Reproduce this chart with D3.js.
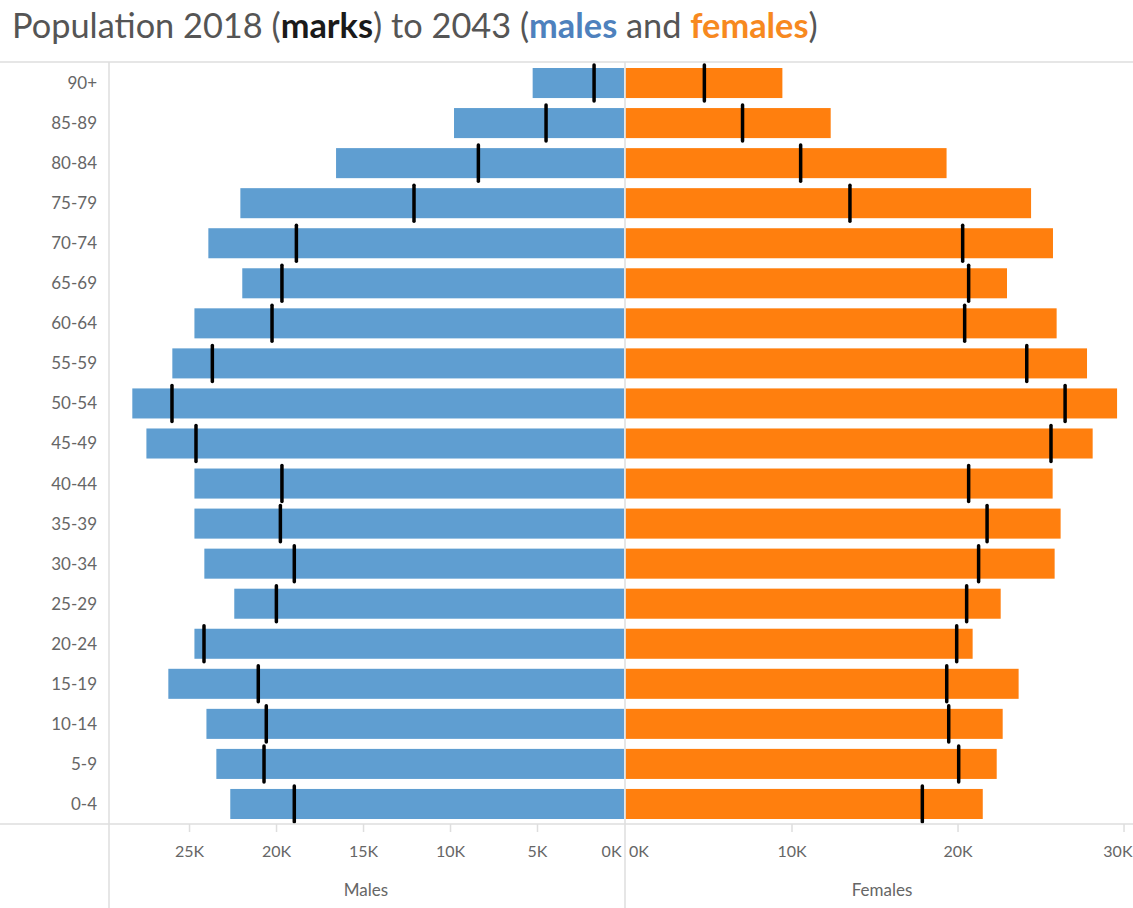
<!DOCTYPE html>
<html>
<head>
<meta charset="utf-8">
<script src="https://cdn.jsdelivr.net/npm/d3@7"></script>
<style>
  html, body { margin: 0; padding: 0; background: #fff; }
  svg { display: block; font-family: Lato, "Open Sans", sans-serif; }
</style>
</head>
<body>
<svg id="chart" width="1133" height="908"></svg>
<script>
// ---- data ----
const ageGroups = ["90+","85-89","80-84","75-79","70-74","65-69","60-64","55-59","50-54","45-49",
                   "40-44","35-39","30-34","25-29","20-24","15-19","10-14","5-9","0-4"];
// 2043 projections (bars)
const males2043   = [5250, 9770, 16550, 22050, 23890, 21940, 24690, 25960, 28260, 27450,
                     24690, 24690, 24120, 22400, 24690, 26190, 24000, 23430, 22630];
const females2043 = [9450, 12360, 19340, 24430, 25750, 22980, 25970, 27800, 29610, 28140,
                     25730, 26210, 25850, 22600, 20910, 23680, 22720, 22360, 21520];
// 2018 population (marks)
const males2018   = [1720, 4480, 8370, 12070, 18830, 19660, 20230, 23660, 25980, 24600,
                     19660, 19750, 18950, 19980, 24140, 21020, 20560, 20690, 18950];
const females2018 = [4750, 7050, 10550, 13520, 20310, 20670, 20430, 24170, 26480, 25630,
                     20670, 21780, 21270, 20550, 19950, 19350, 19470, 20070, 17880];
const maleTicks   = [0, 5000, 10000, 15000, 20000, 25000];
const femaleTicks = [0, 10000, 20000, 30000];

// ---- layout ----
const svg = d3.select("#chart");
const W = 1133, H = 908;
const yTop = 63, yBottom = 824;
const leftFrame = 109, mid = 625;
const maleColor = "#5f9ed1", femaleColor = "#ff7f0e";
const lineColor = "#dedede", textColor = "#666";

const y = d3.scaleBand().domain(ageGroups).range([yTop, yBottom]).paddingInner(0.25).paddingOuter(0.125);
const xM = d3.scaleLinear().domain([0, 29600]).range([mid - 1, leftFrame]);
const xF = d3.scaleLinear().domain([0, 30570]).range([mid + 0.5, W]);

// frame lines
svg.append("line").attr("x1", 0).attr("x2", W).attr("y1", yTop - 1).attr("y2", yTop - 1)
  .attr("stroke", lineColor).attr("stroke-width", 1.5);
svg.append("line").attr("x1", leftFrame).attr("x2", leftFrame).attr("y1", yTop - 1).attr("y2", H)
  .attr("stroke", lineColor).attr("stroke-width", 1.5);

// bars
svg.append("g").selectAll("rect").data(ageGroups).join("rect")
  .attr("x", (d, i) => xM(males2043[i]))
  .attr("y", d => y(d))
  .attr("width", (d, i) => xM(0) - xM(males2043[i]))
  .attr("height", y.bandwidth())
  .attr("fill", maleColor);
svg.append("g").selectAll("rect").data(ageGroups).join("rect")
  .attr("x", xF(0))
  .attr("y", d => y(d))
  .attr("width", (d, i) => xF(females2043[i]) - xF(0))
  .attr("height", y.bandwidth())
  .attr("fill", femaleColor);

// center line
svg.append("line").attr("x1", mid).attr("x2", mid).attr("y1", yTop - 1).attr("y2", H)
  .attr("stroke", lineColor).attr("stroke-width", 1.5);

// marks (2018)
const markExt = 3;
svg.append("g").selectAll("line").data(ageGroups).join("line")
  .attr("x1", (d, i) => xM(males2018[i])).attr("x2", (d, i) => xM(males2018[i]))
  .attr("y1", d => y(d) - markExt).attr("y2", d => y(d) + y.bandwidth() + markExt)
  .attr("stroke", "#000").attr("stroke-width", 3.5).attr("stroke-linecap", "round");
svg.append("g").selectAll("line").data(ageGroups).join("line")
  .attr("x1", (d, i) => xF(females2018[i])).attr("x2", (d, i) => xF(females2018[i]))
  .attr("y1", d => y(d) - markExt).attr("y2", d => y(d) + y.bandwidth() + markExt)
  .attr("stroke", "#000").attr("stroke-width", 3.5).attr("stroke-linecap", "round");

// row labels
svg.append("g").selectAll("text").data(ageGroups).join("text")
  .attr("x", 97).attr("y", d => y(d) + y.bandwidth() / 2)
  .attr("dy", "0.35em").attr("text-anchor", "end")
  .attr("font-size", 17).attr("fill", textColor).text(d => d);

// bottom axis line
svg.append("line").attr("x1", 0).attr("x2", W).attr("y1", yBottom).attr("y2", yBottom)
  .attr("stroke", lineColor).attr("stroke-width", 1.5);

const fmt = v => (v / 1000) + "K";
// male axis
const gM = svg.append("g").attr("transform", `translate(0,${yBottom})`)
  .call(d3.axisBottom(xM).tickValues(maleTicks).tickFormat(fmt).tickSize(8).tickPadding(14));
// female axis
const gF = svg.append("g").attr("transform", `translate(0,${yBottom})`)
  .call(d3.axisBottom(xF).tickValues(femaleTicks).tickFormat(fmt).tickSize(8).tickPadding(14));
[gM, gF].forEach(g => {
  g.select(".domain").remove();
  g.selectAll(".tick line").attr("stroke", lineColor).attr("stroke-width", 1.5);
  g.selectAll(".tick text").attr("font-size", 16).attr("fill", textColor)
    .attr("font-family", "Lato, 'Open Sans', sans-serif");
});
// zero labels sit beside the center line; hide zero tick marks
gM.selectAll(".tick").filter(d => d === 0).select("line").remove();
gF.selectAll(".tick").filter(d => d === 0).select("line").remove();
gM.selectAll(".tick").filter(d => d === 0).select("text").attr("text-anchor", "end").attr("x", -3);
gF.selectAll(".tick").filter(d => d === 0).select("text").attr("text-anchor", "start").attr("x", 3);
// last female label kept inside the picture
gF.selectAll(".tick").filter(d => d === 30000).select("text")
  .attr("text-anchor", "end").attr("x", W - xF(30000) - 1);

// axis titles
svg.append("text").attr("x", 366).attr("y", 896).attr("text-anchor", "middle")
  .attr("font-size", 17).attr("fill", textColor).text("Males");
svg.append("text").attr("x", 882).attr("y", 896).attr("text-anchor", "middle")
  .attr("font-size", 17).attr("fill", textColor).text("Females");

// title
const title = svg.append("text").attr("x", 12).attr("y", 38).attr("font-size", 27).attr("fill", "#555");
const parts = [
  ["Population 2018 (", null, "#555"],
  ["marks", "bold", "#1a1a1a"],
  [") to 2043 (", null, "#555"],
  ["males", "bold", "#4e81bd"],
  [" and ", null, "#555"],
  ["females", "bold", "#f7891f"],
  [")", null, "#555"]
];
parts.forEach(p => {
  const t = title.append("tspan").text(p[0]).attr("fill", p[2]);
  if (p[1]) t.attr("font-weight", p[1]);
});
const tw = title.node().getComputedTextLength();
title.attr("font-size", 27 * 806 / tw);
</script>
</body>
</html>
